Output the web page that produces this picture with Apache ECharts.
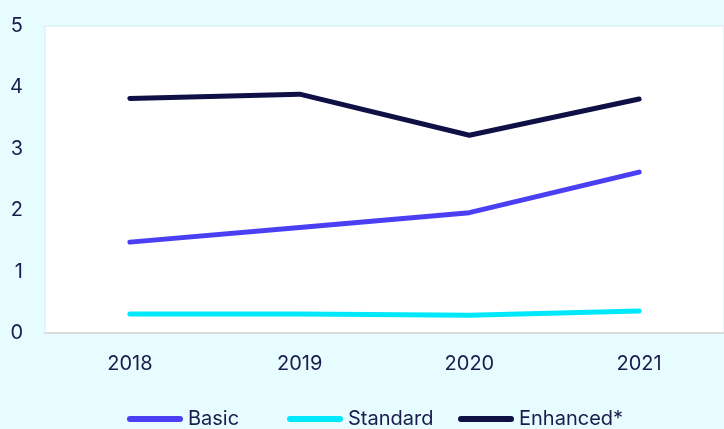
<!DOCTYPE html>
<html>
<head>
<meta charset="utf-8">
<script src="https://cdn.jsdelivr.net/npm/echarts@6/dist/echarts.min.js"></script>
<style>
  html, body { margin: 0; padding: 0; background: #e7fcfe; }
  #chart { width: 724px; height: 429px; }
</style>
</head>
<body>
<div id="chart"></div>
<script>
const years = ['2018', '2019', '2020', '2021']
const basic = [1.48, 1.72, 1.96, 2.62]
const standard = [0.31, 0.31, 0.29, 0.36]
const enhanced = [3.82, 3.89, 3.22, 3.81]
const seriesNames = ['Basic', 'Standard', 'Enhanced*']

const textColor = '#1b1c4d'
const font = 'Inter'
// left edge of each legend item, as in the picture
const legendLefts = [127, 287, 458]

function lineSeries (name, data, color) {
  return {
    name: name,
    type: 'line',
    data: data,
    symbol: 'none',
    color: color,
    lineStyle: { width: 5, color: color, cap: 'round', join: 'round' }
  }
}

function legendAt (name, left) {
  return {
    left: left,
    top: 409,
    padding: 0,
    itemWidth: 56,
    itemHeight: 6,
    icon: 'path://M3,0 L53,0 A3,3 0 0 1 53,6 L3,6 A3,3 0 0 1 3,0 Z',
    textStyle: { fontFamily: font, fontSize: 20, color: textColor },
    data: [name]
  }
}

let myChart = echarts.init(document.getElementById('chart'))
myChart.setOption({
  backgroundColor: '#e7fcfe',
  animation: false,
  textStyle: { fontFamily: font, color: textColor },
  grid: {
    left: 45,
    right: -10,
    top: 26,
    bottom: 96,
    show: true,
    backgroundColor: '#ffffff',
    borderColor: '#d3eef2',
    borderWidth: 1
  },
  legend: seriesNames.map((n, i) => legendAt(n, legendLefts[i])),
  xAxis: {
    type: 'category',
    data: years,
    boundaryGap: true,
    axisLine: { show: true, lineStyle: { color: '#dcdcdc', width: 2 } },
    axisTick: { show: false },
    axisLabel: { fontFamily: font, fontSize: 20, color: textColor, margin: 21 }
  },
  yAxis: {
    type: 'value',
    min: 0,
    max: 5,
    interval: 1,
    splitLine: { show: false },
    axisLine: { show: false },
    axisTick: { show: false },
    axisLabel: { fontFamily: font, fontSize: 20, color: textColor, margin: 22 }
  },
  series: [
    lineSeries('Basic', basic, '#4b3ff4'),
    lineSeries('Standard', standard, '#00e8fc'),
    lineSeries('Enhanced*', enhanced, '#0f1146')
  ]
})
</script>
</body>
</html>
